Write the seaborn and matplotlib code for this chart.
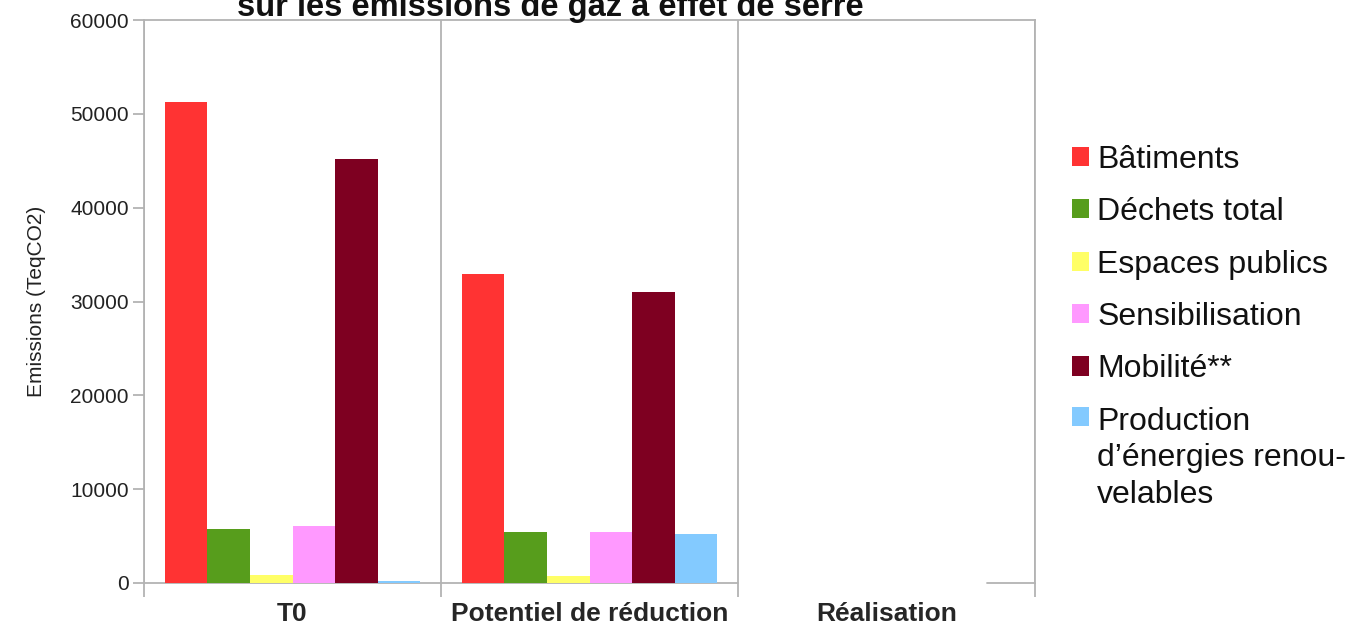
import pandas as pd
import numpy as np
import matplotlib.pyplot as plt
import seaborn as sns

# ── Data ──────────────────────────────────────────────────────────────────────
periods = ["T0", "Potentiel de réduction", "Réalisation"]
sectors = [
    "Bâtiments", "Déchets total", "Espaces publics", "Sensibilisation",
    "Mobilité**", "Production\nd’énergies renou-\nvelables",
]
t0_values = [51300, 5800, 900, 6100, 45200, 200]
potentiel_values = [32900, 5400, 750, 5450, 31050, 5250]
realisation_values = [np.nan] * 6

COLORS = ["#FF3333", "#579D1C", "#FFFF66", "#FF99FF", "#7E0021", "#83CAFF"]
GREY = "#b3b3b3"

rows = []
for period, vals in zip(periods, [t0_values, potentiel_values, realisation_values]):
    for sector, v in zip(sectors, vals):
        rows.append({"period": period, "sector": sector, "value": v})
df = pd.DataFrame(rows)

sns.set_theme(style="white")
plt.rcParams["font.family"] = ["Liberation Sans", "DejaVu Sans"]

fig = plt.figure(figsize=(13.49, 6.27), dpi=100)
ax = fig.add_axes([144 / 1349, 1 - 583 / 627, (1035 - 144) / 1349, (583 - 20) / 627])

sns.barplot(
    data=df, x="period", y="value", hue="sector",
    order=periods, hue_order=sectors, palette=COLORS,
    width=0.86, gap=0, saturation=1, errorbar=None, linewidth=0, ax=ax,
)

ax.set_xlim(-0.5, 2.5)
ax.set_ylim(0, 60000)
ax.set_yticks(range(0, 60001, 10000))
ax.set_xlabel("")
ax.set_ylabel("Emissions (TeqCO2)", fontsize=15, color="#222222", labelpad=17)

# category separators as minor ticks + grid
ax.set_xticks([-0.5, 0.5, 1.5, 2.5], minor=True)
ax.grid(False)
ax.grid(True, which="minor", axis="x", color=GREY, linewidth=1.3)
ax.tick_params(axis="x", which="major", length=0, labelsize=19, pad=14)
ax.tick_params(axis="x", which="minor", length=10, width=1.3, color=GREY, direction="out", bottom=True)
ax.tick_params(axis="y", length=8, width=1.3, color=GREY, direction="out", left=True,
               labelsize=15, labelcolor="#222222", pad=3)
for lab in ax.get_xticklabels():
    lab.set_fontweight("bold")

for side in ["left", "top", "right"]:
    ax.spines[side].set_color(GREY)
    ax.spines[side].set_linewidth(1.3)
ax.spines["bottom"].set_visible(False)
ax.axhline(0, xmin=0, xmax=2 / 3, color=GREY, linewidth=1.3, clip_on=False, zorder=0.5)
ax.axhline(0, xmin=(987 - 144) / 891, xmax=1, color=GREY, linewidth=1.3, clip_on=False, zorder=0.5)

leg = ax.legend(
    loc="upper left", bbox_to_anchor=(1059 / 1349, 1 - 132 / 627),
    bbox_transform=fig.transFigure, frameon=False, fontsize=23,
    handlelength=0.55, handleheight=0.55, handletextpad=0.25,
    labelspacing=0.70, borderaxespad=0, title=None,
)
for t in leg.get_texts():
    t.set_color("#111111")
    t.set_linespacing(1.3)

# align the square of the wrapped entry with its first line
rows_box = leg._legend_handle_box.get_children()[0].get_children()
rows_box[-1].align = "top"

fig.text(550 / 1349, 1 - 16 / 627, "sur les émissions de gaz à effet de serre",
         ha="center", va="baseline", fontsize=23.5, fontweight="bold", color="#111111")

fig.savefig("out.png", dpi=100)
